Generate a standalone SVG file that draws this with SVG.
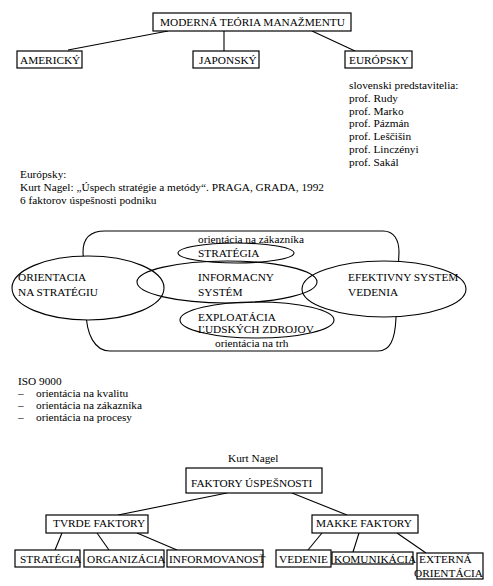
<svg xmlns="http://www.w3.org/2000/svg" width="493" height="586" viewBox="0 0 493 586">
<style>
text{font-family:"Liberation Serif","Times New Roman",serif;font-size:11.3px;fill:#000}
.b{fill:#fff;stroke:#000;stroke-width:1.2}
.e{fill:none;stroke:#000;stroke-width:1.1}
.ew{fill:#fff;stroke:#000;stroke-width:1.1}
.c line{stroke:#000;stroke-width:1.1}
</style>
<rect width="493" height="586" fill="#fff"/>
<g class="c" id="connectors">
<line x1="168" y1="31" x2="68" y2="50"/>
<line x1="224" y1="31" x2="224" y2="51"/>
<line x1="312" y1="31" x2="355" y2="51"/>
<line x1="227" y1="493" x2="118" y2="515"/>
<line x1="292" y1="493" x2="347" y2="515"/>
<line x1="62" y1="533" x2="55" y2="550"/>
<line x1="97" y1="533" x2="109" y2="550"/>
<line x1="137" y1="533" x2="177" y2="550"/>
<line x1="322" y1="533" x2="308" y2="550"/>
<line x1="359" y1="533" x2="353" y2="552"/>
<line x1="397" y1="533" x2="426" y2="553"/>
</g>
<g id="n-moderna"><rect class="b" x="153" y="13" width="198" height="18"/><text x="160" y="26">MODERNÁ TEÓRIA MANAŽMENTU</text></g>
<g id="n-americky"><rect class="b" x="17" y="51" width="65" height="17"/><text x="20" y="64">AMERICKÝ</text></g>
<g id="n-japonsky"><rect class="b" x="193" y="51" width="66" height="17"/><text x="199" y="64">JAPONSKÝ</text></g>
<g id="n-europsky"><rect class="b" x="345" y="51" width="67" height="17"/><text x="349" y="64">EURÓPSKY</text></g>
<g id="slovak-list">
<text x="349" y="89">slovenski predstavitelia:</text>
<text x="349" y="102">prof. Rudy</text>
<text x="349" y="115">prof. Marko</text>
<text x="349" y="127">prof. Pázmán</text>
<text x="349" y="140">prof. Leščišin</text>
<text x="349" y="153">prof. Linczényi</text>
<text x="349" y="166">prof. Sakál</text>
</g>
<g id="europsky-text">
<text x="20" y="178">Európsky:</text>
<text x="20" y="191">Kurt Nagel: „Úspech stratégie a metódy“. PRAGA, GRADA, 1992</text>
<text x="20" y="204">6 faktorov úspešnosti podniku</text>
</g>
<g id="venn">
<path class="e" d="M83,252 C83,238 90,231 105,231 L383,231 C394,231 399,240 399,252 L396,318 C395,340 390,351 378,351 L110,351 C95,351 86,335 86,310 Z"/>
<ellipse class="ew" cx="88" cy="288" rx="76" ry="32"/>
<ellipse class="ew" cx="384" cy="289" rx="82" ry="28"/>
<ellipse class="e" cx="227" cy="282" rx="90" ry="21"/>
<ellipse class="e" cx="236" cy="253" rx="58" ry="10"/>
<ellipse class="e" cx="257" cy="320" rx="77" ry="18"/>
<text x="198" y="243">orientácia na zákazníka</text>
<text x="198" y="257">STRATÉGIA</text>
<text x="18" y="281">ORIENTACIA</text>
<text x="18" y="296">NA STRATÉGIU</text>
<text x="198" y="281">INFORMACNY</text>
<text x="198" y="296">SYSTÉM</text>
<text x="348" y="281">EFEKTIVNY SYSTEM</text>
<text x="348" y="296">VEDENIA</text>
<text x="198" y="321">EXPLOATÁCIA</text>
<text x="198" y="333">ĽUDSKÝCH ZDROJOV</text>
<text x="215" y="347">orientácia na trh</text>
</g>
<g id="iso">
<text x="18" y="385">ISO 9000</text>
<text x="18" y="397">–</text><text x="36" y="397">orientácia na kvalitu</text>
<text x="18" y="409">–</text><text x="36" y="409">orientácia na zákazníka</text>
<text x="18" y="421">–</text><text x="36" y="421">orientácia na procesy</text>
</g>
<text x="228" y="462">Kurt Nagel</text>
<g id="n-faktory"><rect class="b" x="186" y="468" width="136" height="25"/><text x="191" y="487">FAKTORY ÚSPEŠNOSTI</text></g>
<g id="n-tvrde"><rect class="b" x="46" y="515" width="102" height="18"/><text x="53" y="527">TVRDE FAKTORY</text></g>
<g id="n-makke"><rect class="b" x="312" y="515" width="106" height="18"/><text x="316" y="527">MAKKE FAKTORY</text></g>
<g id="n-strategia"><rect class="b" x="15" y="550" width="65" height="17"/><text x="20" y="563">STRATÉGIA</text></g>
<g id="n-organizacia"><rect class="b" x="84" y="550" width="80" height="17"/><text x="87" y="563">ORGANIZÁCIA</text></g>
<g id="n-informovanost"><rect class="b" x="167" y="550" width="96" height="17"/><text x="169" y="563">INFORMOVANOSŤ</text></g>
<g id="n-vedenie"><rect class="b" x="276" y="550" width="55" height="17"/><text x="279" y="563">VEDENIE</text></g>
<g id="n-komunikacia"><rect class="b" x="332" y="552" width="81" height="12"/><text x="334" y="563">KOMUNIKÁCIA</text></g>
<g id="n-externa"><rect class="b" x="417" y="553" width="66" height="26"/><text x="419" y="563">EXTERNÁ</text><text x="414" y="577">ORIENTÁCIA</text></g>
</svg>
